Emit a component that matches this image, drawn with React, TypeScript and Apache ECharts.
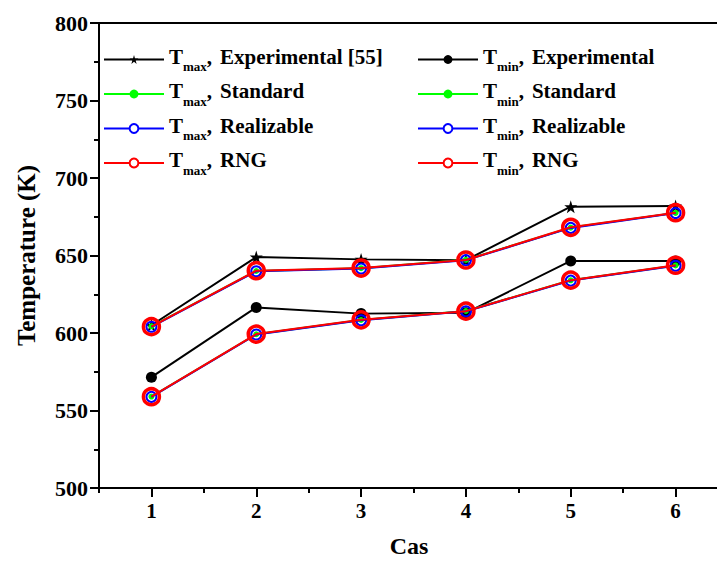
import React, { useEffect, useRef } from "react";
import * as echarts from "echarts";

const categories = ["1", "2", "3", "4", "5", "6"];
const tmaxExperimental = [605, 649, 647.5, 647, 681.5, 682];
const tminExperimental = [571.5, 616.5, 612.5, 613, 646.5, 646.5];
const tmaxStandard = [604.3, 640, 641.8, 647.2, 668, 677.5];
const tminStandard = [559, 599.2, 608.4, 614.2, 634, 643.6];
const tmaxRealizable = [604, 639.8, 641.6, 647, 667.8, 677.4];
const tminRealizable = [558.8, 599, 608.2, 614, 633.8, 643.4];
const tmaxRNG = [604.1, 640.2, 641.9, 647.1, 668.2, 677.6];
const tminRNG = [558.9, 599.3, 608.5, 614.1, 634.1, 643.7];

const FONT = "'Liberation Serif', 'Times New Roman', serif";

export default function App() {
  const ref = useRef<HTMLDivElement>(null);
  useEffect(() => {
    if (!ref.current) return;
    const chart = echarts.init(ref.current, null, { renderer: "svg" });
    const lbl = { fontFamily: FONT, fontWeight: "bold" as const, color: "#000" };
    const rich = {
      t: { ...lbl, fontSize: 21, verticalAlign: "bottom", padding: [0, 0, 6, 0] },
      s: { ...lbl, fontSize: 13, verticalAlign: "bottom", padding: [0, 0, 0, 0] },
      c: { ...lbl, fontSize: 21, verticalAlign: "bottom", padding: [0, 0, 6, 0] },
      n: { ...lbl, fontSize: 21, verticalAlign: "bottom", padding: [0, 0, 6, 8] },
    };
    const fmt = (name: string) => {
      const m = name.match(/^T(max|min), (.*)$/);
      if (!m) return name;
      return `{t|T}{s|${m[1]}}{c|,}{n|${m[2]}}`;
    };
    const legendBase = {
      orient: "vertical",
      padding: 0,
      itemWidth: 60,
      itemHeight: 11,
      itemGap: 7.5,
      formatter: fmt,
      textStyle: { ...lbl, fontSize: 21, rich },
    };
    const mk = (name: string, data: number[], kind: string) => {
      const base: any = { name, type: "line", data, animation: false };
      if (kind === "exp-star") {
        return { ...base, symbol: "path://M50,0 L61,35 L98,35 L68,57 L79,91 L50,70 L21,91 L32,57 L2,35 L39,35 Z", symbolSize: 13, color: "#000", lineStyle: { color: "#000", width: 2 }, itemStyle: { color: "#000" }, z: 2 };
      }
      if (kind === "exp-dot") {
        return { ...base, symbol: "circle", symbolSize: 11, color: "#000", lineStyle: { color: "#000", width: 2 }, itemStyle: { color: "#000" }, z: 2 };
      }
      if (kind === "std") {
        return { ...base, symbol: "circle", symbolSize: 6, color: "#00ff00", lineStyle: { color: "#00ff00", width: 2 }, itemStyle: { color: "#00ff00" }, z: 3 };
      }
      if (kind === "real") {
        return { ...base, symbol: "circle", symbolSize: 10, color: "#0000ff", lineStyle: { color: "#0000ff", width: 2 }, itemStyle: { color: "rgba(0,0,0,0)", borderColor: "#0000ff", borderWidth: 2 }, z: 4 };
      }
      return { ...base, symbol: "circle", symbolSize: 16, color: "#ff0000", lineStyle: { color: "#ff0000", width: 2 }, itemStyle: { color: "rgba(0,0,0,0)", borderColor: "#ff0000", borderWidth: 3.5 }, z: 5 };
    };
    const names = {
      maxExp: "Tmax, Experimental [55]",
      maxStd: "Tmax, Standard",
      maxReal: "Tmax, Realizable",
      maxRng: "Tmax, RNG",
      minExp: "Tmin, Experimental",
      minStd: "Tmin, Standard",
      minReal: "Tmin, Realizable",
      minRng: "Tmin, RNG",
    };
    const legendItem = (name: string, kind: string) => {
      if (kind === "real") return { name, itemStyle: { color: "#fff", borderColor: "#0000ff", borderWidth: 2 } };
      if (kind === "rng") return { name, itemStyle: { color: "#fff", borderColor: "#ff0000", borderWidth: 2 } };
      return { name };
    };
    chart.setOption({
      animation: false,
      backgroundColor: "#fff",
      grid: { left: 99, top: 23, width: 629, height: 465, outerBoundsMode: "none", containLabel: false },
      legend: [
        {
          ...legendBase,
          left: 103,
          top: 46,
          data: [
            legendItem(names.maxExp, "exp"),
            legendItem(names.maxStd, "std"),
            legendItem(names.maxReal, "real"),
            legendItem(names.maxRng, "rng"),
          ],
        },
        {
          ...legendBase,
          left: 417,
          top: 46,
          data: [
            legendItem(names.minExp, "exp"),
            legendItem(names.minStd, "std"),
            legendItem(names.minReal, "real"),
            legendItem(names.minRng, "rng"),
          ],
        },
      ],
      xAxis: [
        {
          type: "category",
          data: categories,
          boundaryGap: true,
          position: "bottom",
          name: "Cas",
          nameLocation: "middle",
          nameGap: 46,
          nameTextStyle: { ...lbl, fontSize: 24, padding: [0, 9, 0, 0] },
          axisLine: { show: true, lineStyle: { color: "#000", width: 2 } },
          axisTick: { show: true, alignWithLabel: true, length: 9, lineStyle: { color: "#000", width: 2 } },
          axisLabel: { ...lbl, fontSize: 21, margin: 12 },
          splitLine: { show: false },
        },
        {
          type: "category",
          data: categories,
          boundaryGap: true,
          position: "bottom",
          axisLine: { show: false },
          axisTick: { show: true, length: 5, lineStyle: { color: "#000", width: 2 } },
          axisLabel: { show: false },
          splitLine: { show: false },
        },
        {
          type: "category",
          data: categories,
          boundaryGap: true,
          position: "top",
          axisLine: { show: true, lineStyle: { color: "#000", width: 2 } },
          axisTick: { show: false },
          axisLabel: { show: false },
          splitLine: { show: false },
        },
      ],
      yAxis: {
        type: "value",
        min: 500,
        max: 800,
        interval: 50,
        name: "Temperature (K)",
        nameLocation: "middle",
        nameGap: 60,
        nameTextStyle: { ...lbl, fontSize: 25 },
        axisLine: { show: true, lineStyle: { color: "#000", width: 2 } },
        axisTick: { show: true, length: 9, lineStyle: { color: "#000", width: 2 } },
        minorTick: { show: true, splitNumber: 2, length: 5, lineStyle: { color: "#000", width: 2 } },
        axisLabel: { ...lbl, fontSize: 22, margin: 11 },
        splitLine: { show: false },
      },
      series: [
        mk(names.maxExp, tmaxExperimental, "exp-star"),
        mk(names.minExp, tminExperimental, "exp-dot"),
        mk(names.maxStd, tmaxStandard, "std"),
        mk(names.minStd, tminStandard, "std"),
        mk(names.maxReal, tmaxRealizable, "real"),
        mk(names.minReal, tminRealizable, "real"),
        mk(names.maxRng, tmaxRNG, "rng"),
        mk(names.minRng, tminRNG, "rng"),
      ],
    });
    return () => chart.dispose();
  }, []);
  return (
    <div
      ref={ref}
      style={{ position: "fixed", left: 0, top: 0, width: 717, height: 570, background: "#fff" }}
    />
  );
}
